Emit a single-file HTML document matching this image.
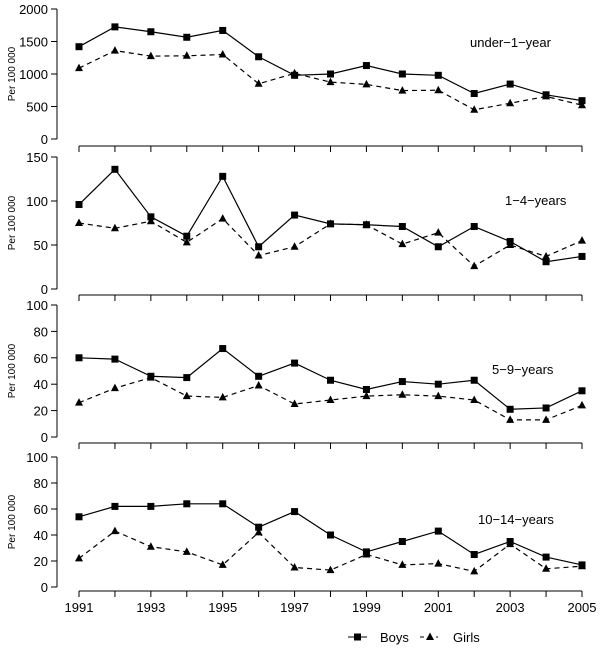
<!DOCTYPE html>
<html><head><meta charset="utf-8"><style>
body{margin:0;background:#fff}
text{font-family:"Liberation Sans",sans-serif;fill:#000}
</style></head><body>
<svg id="c" width="600" height="665" xmlns="http://www.w3.org/2000/svg"></svg>
<script>
const years=[1991,1992,1993,1994,1995,1996,1997,1998,1999,2000,2001,2002,2003,2004,2005];
const xTickLabels=[1991,1993,1995,1997,1999,2001,2003,2005];
const panelNames=["under\u22121\u2212year","1\u22124\u2212years","5\u22129\u2212years","10\u221214\u2212years"];
const boys1=[1420,1725,1650,1565,1670,1265,980,1000,1130,1000,980,700,845,680,590];
const girls1=[1090,1360,1275,1280,1300,850,1010,875,840,745,750,450,550,655,520];
const boys2=[96,136,82,60,128,48,84,74,73,71,48,71,54,31,37];
const girls2=[75,69,77,53,80,38,48,74,73,51,64,26,50,37,55];
const boys3=[60,59,46,45,67,46,56,43,36,42,40,43,21,22,35];
const girls3=[26,37,45,31,30,39,25,28,31,32,31,28,13,13,24];
const boys4=[54,62,62,64,64,46,58,40,27,35,43,25,35,23,17];
const girls4=[22,43,31,27,17,42,15,13,25,17,18,12,33,14,16];
const yTicks1=[0,500,1000,1500,2000];
const yTicks2=[0,50,100,150];
const yTicks3=[0,20,40,60,80,100];
const yTicks4=[0,20,40,60,80,100];

const svg=document.getElementById('c');
const NS="http://www.w3.org/2000/svg";
function mk(t,a,p){const e=document.createElementNS(NS,t);for(const k in a)e.setAttribute(k,a[k]);(p||svg).appendChild(e);return e;}
const x=v=>79+(v-1991)*(582-79)/14;
const panels=[
 {b:boys1,g:girls1,t:yTicks1,max:2000,top:9,bot:139,ax:146,lx:470,ly:47},
 {b:boys2,g:girls2,t:yTicks2,max:150,top:157,bot:289,ax:295,lx:505,ly:205},
 {b:boys3,g:girls3,t:yTicks3,max:100,top:305,bot:437,ax:443,lx:492,ly:374},
 {b:boys4,g:girls4,t:yTicks4,max:100,top:457,bot:587,ax:591,lx:478,ly:524}];
panels.forEach((p,i)=>{
 const g=mk('g',{});
 
 
 const y=v=>p.bot-v*(p.bot-p.top)/p.max;
 // y axis
 const ya=mk('line',{x1:57,x2:57,y1:y(0),y2:y(p.max),stroke:'#000'},g);
 
 
 p.t.forEach(v=>{
  mk('line',{x1:51,x2:57,y1:y(v),y2:y(v),stroke:'#000'},g);
  const tx=mk('text',{x:48,y:y(v)+5,'text-anchor':'end','font-size':13},g);
  tx.textContent=v;
  
  
 });
 const yt=mk('text',{transform:`translate(15,${(p.top+p.bot)/2}) rotate(-90)`,'text-anchor':'middle','font-size':10},g);
 yt.textContent='Per 100 000';
 
 
 // x axis
 const xa=mk('line',{x1:x(1991),x2:x(2005),y1:p.ax,y2:p.ax,stroke:'#000'},g);
 
 
 years.forEach(v=>mk('line',{x1:x(v),x2:x(v),y1:p.ax,y2:p.ax+6,stroke:'#000'},g));
 if(i===3){xTickLabels.forEach(v=>{const t=mk('text',{x:x(v),y:612,'text-anchor':'middle','font-size':13},g);t.textContent=v;
  
  });}
 // series
 const bl=mk('polyline',{points:p.b.map((v,k)=>x(years[k])+','+y(v)).join(' '),fill:'none',stroke:'#000','stroke-width':1.2},g);
 
 
 const gl=mk('polyline',{points:p.g.map((v,k)=>x(years[k])+','+y(v)).join(' '),fill:'none',stroke:'#000','stroke-width':1.2,'stroke-dasharray':'5,4'},g);
 
 
 p.b.forEach((v,k)=>{const r=mk('rect',{x:x(years[k])-3.5,y:y(v)-3.5,width:7,height:7,fill:'#000'},g);
  
  });
 p.g.forEach((v,k)=>{const cx=x(years[k]),cy=y(v);const t=mk('polygon',{points:`${cx},${cy-4.5} ${cx-4},${cy+3} ${cx+4},${cy+3}`,fill:'#000'},g);
  
  });
 const lb=mk('text',{x:p.lx,y:p.ly,'font-size':13},g);
 lb.textContent=panelNames[i];
 
 
});
// legend
const lg=mk('g',{});


mk('line',{x1:348,x2:367,y1:637,y2:637,stroke:'#000'},lg);
mk('rect',{x:354,y:633.5,width:7,height:7,fill:'#000'},lg);
const t1=mk('text',{x:380,y:642,'font-size':13},lg);t1.textContent='Boys';


mk('line',{x1:420,x2:438,y1:637,y2:637,stroke:'#000','stroke-dasharray':'4,4'},lg);
mk('polygon',{points:'430,632.5 426,640 434,640',fill:'#000'},lg);
const t2=mk('text',{x:453,y:642,'font-size':13},lg);t2.textContent='Girls';


</script>
</body></html>
